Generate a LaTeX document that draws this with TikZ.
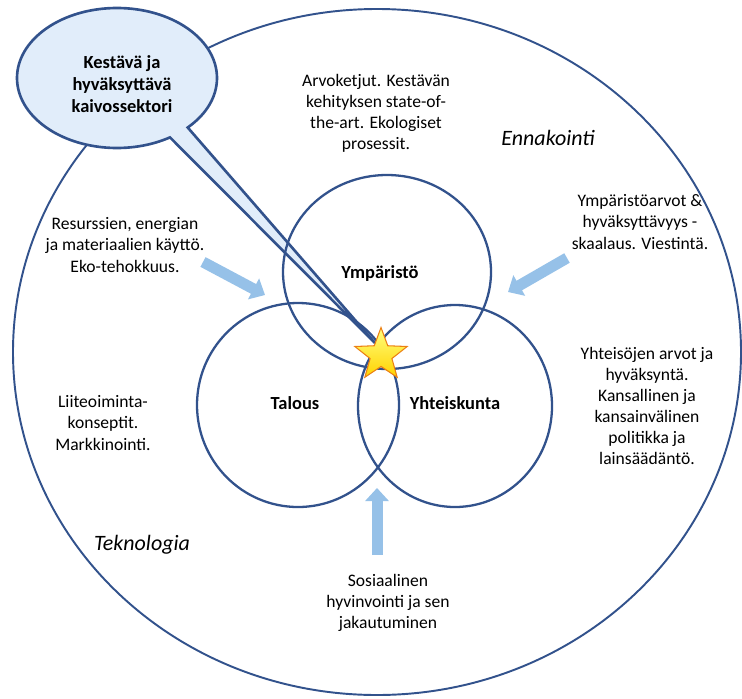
\documentclass[tikz,border=0pt]{standalone}
\usepackage{fontspec}
\setmainfont{Carlito}
\usetikzlibrary{arrows.meta,shapes.geometric}
\definecolor{ringblue}{RGB}{50,82,140}
\definecolor{bubble}{RGB}{225,237,250}
\definecolor{arrblue}{RGB}{150,193,232}
\tikzset{
  ring/.style={line width=1.3pt,ringblue},
  outerring/.style={line width=1.1pt,ringblue},
  callout/.style={line width=1.5pt,draw=ringblue,fill=bubble},
  fatarr/.style={-{Triangle[width=0.46cm,length=0.26cm]},line width=0.22cm,arrblue},
  txt/.style={font=\fontsize{10}{12}\selectfont,align=center,inner sep=1pt},
  sector/.style={font=\fontsize{10.5}{12}\selectfont\bfseries,inner sep=1pt},
  theme/.style={font=\fontsize{12.5}{14}\selectfont\itshape,inner sep=1pt},
  tahti/.style={star,star points=5,star point ratio=2.4,minimum size=1.1cm,inner sep=0pt,
    draw=orange!70!brown,line width=0.6pt,top color=yellow!50!white,bottom color=yellow!65!orange},
}
\begin{document}
\begin{tikzpicture}[x=0.02cm,y=0.02cm]
  \useasboundingbox (0,0) rectangle (742,698);
  \draw[outerring] (377,346) ellipse[x radius=364,y radius=343];
  % speech bubble with its tail to the star
  \coordinate (tip) at (375,355);
  \filldraw[callout] (117,620) ++(-45:100 and 70)
    arc[start angle=-45,end angle=302,x radius=100,y radius=70] -- (tip) -- cycle;
  \foreach \cx/\cy/\rx/\ry in {387/426/104/97, 298/293/101/102, 455/292/97/101}
    \draw[ring] (\cx,\cy) ellipse[x radius=\rx,y radius=\ry];
  % arrows from the outer themes
  \coordinate (l0) at (203,436); \coordinate (l1) at (265,403);
  \coordinate (r0) at (567,440); \coordinate (r1) at (508,406);
  \coordinate (b0) at (377,143); \coordinate (b1) at (377,210);
  \draw[fatarr] (l0) -- (l1);
  \draw[fatarr] (r0) -- (r1);
  \draw[fatarr] (b0) -- (b1);
  \node[tahti] (tahti) at (381,343) {};
  \node[txt,font=\fontsize{10.5}{12.5}\selectfont\bfseries] (kaivos) at (122,614)
    {Kestävä ja\\hyväksyttävä\\kaivossektori};
  \node[sector] (ymp) at (380,425) {Ympäristö};
  \node[sector] (tal) at (295,295) {Talous};
  \node[sector] (yht) at (455,295) {Yhteiskunta};
  \node[theme] (ennak) at (548,560) {Ennakointi};
  \node[theme] (tekno) at (142,153) {Teknologia};
  \node[txt] (arvo) at (376,585) {Arvoketjut. Kestävän\\kehityksen state-of-\\the-art. Ekologiset\\prosessit.};
  \node[txt] (resurssi) at (125,453) {Resurssien, energian\\ja materiaalien käyttö.\\Eko-tehokkuus.};
  \node[txt] (ymparvo) at (640,476) {Ympäristöarvot \&\\hyväksyttävyys -\\skaalaus. Viestintä.};
  \node[txt] (yhteiso) at (647,292) {Yhteisöjen arvot ja\\hyväksyntä.\\Kansallinen ja\\kansainvälinen\\politikka ja\\lainsäädäntö.};
  \node[txt] (liiketoim) at (103,275) {Liiteoiminta-\\konseptit.\\Markkinointi.};
  \node[txt] (sosiaal) at (388,95) {Sosiaalinen\\hyvinvointi ja sen\\jakautuminen};
\end{tikzpicture}
\end{document}
